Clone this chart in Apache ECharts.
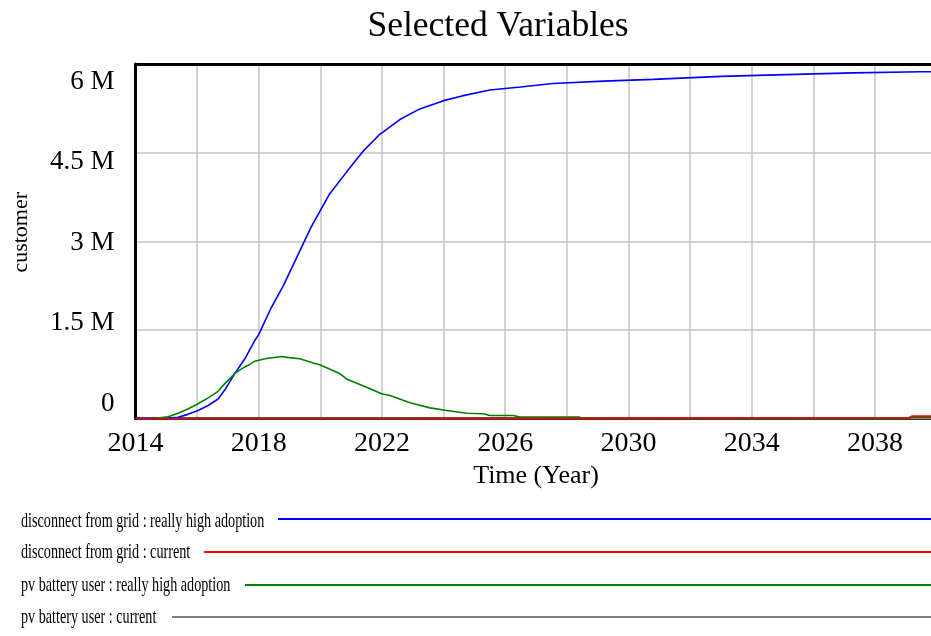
<!DOCTYPE html>
<html>
<head>
<meta charset="utf-8">
<script src="https://cdn.jsdelivr.net/npm/echarts@6/dist/echarts.min.js"></script>
<style>
  html, body { margin: 0; padding: 0; background: #ffffff; }
  #chart { width: 931px; height: 636px; }
</style>
</head>
<body>
<div id="chart"></div>
<script>
// Simulation output (customers, in millions) at the listed years.
const disconnectHighYears = [2014, 2015, 2015.38, 2015.7, 2016.03, 2016.36, 2016.68, 2016.9, 2017.22, 2017.55, 2017.87, 2018.0, 2018.4, 2018.8, 2019.3, 2019.7, 2020.3, 2020.85, 2021.4, 2021.93, 2022.58, 2023.23, 2024.0, 2024.6, 2025.5, 2026.5, 2027.55, 2029.2, 2030.8, 2033.0, 2035.1, 2037.3, 2039.5, 2040];
const disconnectHighValues = [0.004, 0.006, 0.02, 0.07, 0.135, 0.22, 0.33, 0.485, 0.76, 1.01, 1.32, 1.42, 1.87, 2.25, 2.80, 3.24, 3.80, 4.17, 4.53, 4.81, 5.06, 5.24, 5.38, 5.46, 5.56, 5.61, 5.67, 5.71, 5.74, 5.79, 5.82, 5.85, 5.87, 5.87];

const disconnectCurrentYears = [2014, 2022.3, 2022.35, 2039.1, 2039.2, 2040];
const disconnectCurrentValues = [0, 0, 0.012, 0.012, 0.04, 0.04];

const pvBatteryHighYears = [2014, 2014.63, 2015.06, 2015.38, 2015.7, 2016.03, 2016.36, 2016.68, 2016.9, 2017.22, 2017.44, 2017.66, 2017.87, 2018.2, 2018.74, 2019.0, 2019.33, 2019.77, 2019.98, 2020.63, 2020.85, 2021.5, 2021.99, 2022.26, 2022.91, 2023.56, 2024.1, 2024.75, 2025.3, 2025.5, 2026.26, 2026.48, 2028.4, 2028.5, 2039.1, 2039.2, 2040];
const pvBatteryHighValues = [0, 0.005, 0.03, 0.09, 0.16, 0.25, 0.35, 0.46, 0.59, 0.76, 0.84, 0.90, 0.97, 1.01, 1.05, 1.03, 1.01, 0.94, 0.91, 0.76, 0.67, 0.53, 0.42, 0.39, 0.265, 0.18, 0.135, 0.09, 0.08, 0.05, 0.05, 0.025, 0.025, 0.004, 0.004, 0.022, 0.022];

const pvBatteryCurrentYears = [2014, 2040];
const pvBatteryCurrentValues = [0, 0];

const yTickValues = [0, 1.5, 3, 4.5, 6];
const yTickLabels = ['0', '1.5 M', '3 M', '4.5 M', '6 M'];
const xLabelYears = [2014, 2018, 2022, 2026, 2030, 2034, 2038];

const seriesNames = [
  'disconnect from grid : really high adoption',
  'disconnect from grid : current',
  'pv battery user : really high adoption',
  'pv battery user : current'
];
const seriesColors = ['#0000ff', '#ff0000', '#008000', '#808080'];

function pairs(xs, ys) { return xs.map((x, i) => [x, ys[i]]); }

const FONT = 'Liberation Serif, Times New Roman, serif';

// Per-label vertical nudges for the value axis labels
const yLabelPad = [[0, 0, 29, 0], [0, 0, 13, 0], [3, 0, 0, 0], [18, 0, 0, 0], [35, 0, 0, 0]];
const yRich = {};
yLabelPad.forEach((p, i) => {
  yRich['l' + i] = { fontFamily: FONT, fontSize: 27, color: '#000', padding: p };
});

// Legend rows: text on the left, sample line running to the right edge
const legendRows = [
  { y: 521, lineStart: 278, lineY: 519 },
  { y: 552, lineStart: 204, lineY: 552 },
  { y: 585, lineStart: 245, lineY: 585 },
  { y: 617, lineStart: 172, lineY: 617 }
];
const legendGraphics = [];
legendRows.forEach((row, i) => {
  legendGraphics.push({
    type: 'text', x: 21, y: row.y, scaleX: 0.675, scaleY: 1,
    style: { text: seriesNames[i], fontFamily: FONT, fontSize: 21, fill: '#000', verticalAlign: 'middle', align: 'left' }
  });
  legendGraphics.push({
    type: 'line',
    shape: { x1: row.lineStart, y1: row.lineY, x2: 931, y2: row.lineY },
    style: { stroke: seriesColors[i], lineWidth: 2 }
  });
});

const chart = echarts.init(document.getElementById('chart'), null, { renderer: 'canvas' });

const drawOrder = [3, 0, 2, 1];
const seriesData = [
  pairs(disconnectHighYears, disconnectHighValues),
  pairs(disconnectCurrentYears, disconnectCurrentValues),
  pairs(pvBatteryHighYears, pvBatteryHighValues),
  pairs(pvBatteryCurrentYears, pvBatteryCurrentValues)
];

const gridLine = { show: true, lineStyle: { color: '#c4c4c4', width: 1.5 } };

chart.setOption({
  animation: false,
  backgroundColor: '#ffffff',
  title: {
    text: 'Selected Variables',
    left: 493, top: 4, textAlign: 'center',
    textStyle: { fontFamily: FONT, fontSize: 35.5, fontWeight: 'normal', color: '#000' }
  },
  // plot area runs slightly past the right edge of the canvas
  grid: { left: 135.5, top: 64, width: 801, height: 354.5, outerBoundsMode: 'none', containLabel: false },
  xAxis: [{
    type: 'value', min: 2014, max: 2040, interval: 2, position: 'bottom',
    name: 'Time (Year)', nameLocation: 'middle', nameGap: 45,
    nameTextStyle: { fontFamily: FONT, fontSize: 26, color: '#000' },
    axisLine: { show: true, onZero: false, lineStyle: { color: '#000', width: 2.5 } },
    axisTick: { show: false },
    axisLabel: {
      margin: 11, fontFamily: FONT, fontSize: 28, color: '#000',
      formatter: v => (xLabelYears.indexOf(v) >= 0 ? String(v) : '')
    },
    splitLine: gridLine
  }, {
    type: 'value', min: 2014, max: 2040, interval: 2, position: 'top',
    axisLine: { show: true, onZero: false, lineStyle: { color: '#000', width: 3 } },
    axisTick: { show: false }, axisLabel: { show: false }, splitLine: { show: false }
  }],
  yAxis: {
    type: 'value', min: 0, max: 6, interval: 1.5,
    name: 'customer', nameLocation: 'middle', nameGap: 103, nameRotate: 90,
    nameTextStyle: { fontFamily: FONT, fontSize: 22, color: '#000', padding: [0, 0, 0, 18] },
    axisLine: { show: true, lineStyle: { color: '#000', width: 3 } },
    axisTick: { show: false },
    axisLabel: {
      margin: 21,
      formatter: v => {
        const i = yTickValues.indexOf(v);
        return i >= 0 ? '{l' + i + '|' + yTickLabels[i] + '}' : '';
      },
      rich: yRich
    },
    splitLine: gridLine
  },
  series: drawOrder.map(i => ({
    name: seriesNames[i],
    type: 'line',
    xAxisIndex: 0,
    data: seriesData[i],
    showSymbol: false,
    symbol: 'none',
    lineStyle: { color: seriesColors[i], width: 1.6 },
    z: 3 + drawOrder.indexOf(i)
  })),
  graphic: legendGraphics
});
</script>
</body>
</html>
